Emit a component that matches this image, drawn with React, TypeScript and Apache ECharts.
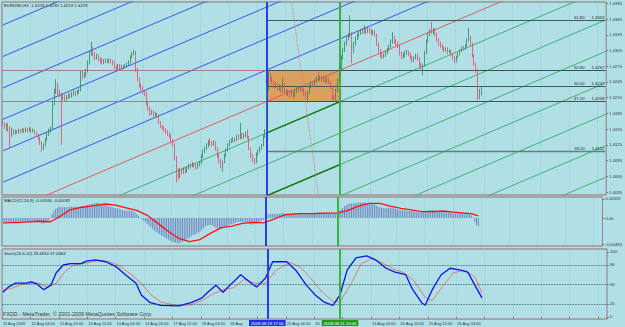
import React, { useEffect, useRef } from "react";
import * as echarts from "echarts";

const FONT = "'Liberation Sans', Arial, sans-serif";
const BG = "#b0e0e6";
const FRAME = "#9a6a6a";
const TEXT = "#333333";
const BULL = "#2a8a5a";
const BEAR = "#ee4466";

const symbolInfo = "EURUSD,H1  1.4228 1.4235 1.4219 1.4229";
const macdTitle = "MACD(12,26,9) -0.00160 -0.00092";
const stochTitle = "Stoch(24,6,12) 29.4810 37.0084";
const copyright = "FXDD - MetaTrader, \u00a9 2001-2009 MetaQuotes Software Corp.";

const SLOT_COUNT = 341;
// labels partly hidden under the two vertical-line date boxes are shown cut, as in the reference
const timeTickLabels: [number, string][] = [
  [0, "11 Aug 2009"], [16, "12 Aug 04:00"], [32, "12 Aug 20:00"], [48, "13 Aug 12:00"],
  [64, "14 Aug 04:00"], [80, "14 Aug 20:00"], [96, "17 Aug 12:00"], [112, "18 Aug 04:00"],
  [128, "18 Aug"], [160, "20 Aug 04:00"], [176, "20"],
  [208, "24 Aug 04:00"], [224, "24 Aug 20:00"], [240, "25 Aug 12:00"],
  [256, "26 Aug 04:00"],
];
// price in pips above 1.4000
const priceTicks = [35, 65, 95, 125, 155, 185, 215, 245, 275, 305, 335, 365, 395];
const macdTicks = [35.3, 0, -48.3];
const stochTicks = [0, 20, 50, 80, 100];
const stochLevels = [20, 50, 80];

// [open, close, low, high] in pips above 1.4000, H1 bars from 11 Aug 12:00
const candles = [
  [170,165,160,174],[165,160,155,168],[160,163,152,167],[163,158,150,166],[158,150,118,160],
  [150,152,140,158],[152,148,144,155],[148,150,145,154],[150,149,146,153],[149,152,147,156],
  [152,150,147,155],[150,153,148,157],[153,151,148,156],[151,154,149,158],[154,152,149,157],
  [152,155,150,159],[155,151,148,158],[151,153,149,156],[153,148,145,155],[148,144,140,150],
  [144,138,134,146],[138,130,125,140],[130,118,112,132],[118,125,115,128],[125,135,122,138],
  [135,145,132,148],[145,152,142,156],[152,156,148,160],[156,205,154,210],[205,228,200,232],
  [228,240,222,250],[240,225,220,243],[225,220,215,230],[220,215,125,224],[215,218,210,222],
  [218,212,208,221],[212,216,209,220],[216,220,213,223],[220,218,214,224],[218,222,215,226],
  [222,225,219,229],[225,222,218,228],[222,226,220,230],[226,229,223,233],[229,262,227,266],
  [262,255,250,266],[255,258,252,263],[258,266,255,270],[266,282,263,286],[282,300,278,305],
  [300,310,295,322],[310,298,294,312],[298,290,286,302],[290,294,288,299],[294,288,284,297],
  [288,286,280,292],[286,282,278,290],[282,284,279,289],[284,286,281,290],[286,283,280,289],
  [283,286,281,290],[286,284,280,289],[284,281,277,287],[281,274,270,284],[274,270,265,277],
  [270,276,268,279],[276,272,268,279],[272,275,270,278],[275,273,269,277],[273,276,271,279],
  [276,278,274,282],[278,282,276,286],[282,292,280,296],[292,298,290,302],[298,302,296,306],
  [302,268,264,304],[268,250,246,272],[250,238,234,254],[238,232,228,242],[232,226,222,236],
  [226,222,218,230],[222,205,200,226],[205,195,190,208],[195,185,180,198],[185,188,182,192],
  [188,182,178,191],[182,184,180,187],[184,180,176,186],[180,168,165,183],[168,160,157,170],
  [160,157,154,163],[157,154,150,160],[154,150,146,157],[150,146,142,153],[146,142,138,149],
  [142,132,128,145],[132,126,122,135],[126,100,95,128],[100,72,53,104],[72,65,58,80],
  [65,76,62,80],[76,72,68,80],[72,78,70,82],[78,74,70,81],[74,80,72,84],
  [80,86,78,89],[86,84,80,89],[84,88,82,92],[88,85,82,90],[85,82,78,88],
  [82,86,79,90],[86,90,84,94],[90,102,88,106],[102,112,100,116],[112,118,109,122],
  [118,124,115,128],[124,130,120,134],[130,128,124,138],[128,126,122,132],[126,130,123,134],
  [130,118,114,132],[118,105,100,120],[105,95,90,108],[95,85,80,98],[85,92,74,95],
  [92,104,90,108],[104,115,102,118],[115,125,112,128],[125,130,122,134],[130,133,128,137],
  [133,136,130,140],[136,134,130,139],[134,140,132,144],[140,138,135,145],[138,145,136,167],
  [145,140,136,148],[140,144,137,147],[144,146,140,150],[146,140,136,154],[140,118,115,142],
  [118,105,100,120],[105,96,92,108],[96,92,87,100],[92,106,90,110],[106,112,104,116],
  [112,118,110,122],[118,124,115,127],[124,140,122,144],[140,150,138,155],[150,232,148,240],
  [232,258,228,267],[258,250,246,262],[250,245,240,255],[245,236,232,248],[236,240,233,244],
  [240,232,228,243],[232,236,229,240],[236,228,224,239],[228,240,226,253],[240,228,222,243],
  [228,222,218,232],[222,226,219,229],[226,220,215,229],[220,224,217,228],[224,218,214,227],
  [218,226,216,230],[226,232,224,236],[232,228,225,236],[228,233,226,237],[233,230,226,236],
  [230,222,218,233],[222,218,214,226],[218,225,205,228],[225,236,222,240],[236,242,233,246],
  [242,238,235,247],[238,246,236,250],[246,252,243,256],[252,250,246,264],[250,254,247,258],
  [254,248,245,257],[248,252,245,256],[252,246,242,255],[246,250,243,254],[250,244,240,253],
  [244,236,232,247],[236,215,210,238],[215,212,208,220],[212,228,210,232],[228,248,225,252],
  [248,272,245,276],[272,292,268,296],[292,306,288,310],[306,318,302,322],[318,328,314,332],
  [328,334,324,338],[334,336,330,372],[336,305,280,340],[305,318,300,322],[318,328,314,332],
  [328,334,325,338],[334,338,330,342],[338,342,335,346],[342,340,336,348],[340,344,337,353],
  [344,341,337,348],[341,345,338,349],[345,342,338,348],[342,338,334,346],[338,340,335,344],
  [340,335,331,343],[335,318,314,337],[318,305,300,320],[305,296,292,308],[296,292,288,300],
  [292,296,290,300],[296,300,293,304],[300,306,298,310],[306,312,304,316],[312,322,310,326],
  [322,330,318,340],[330,322,318,333],[322,318,314,326],[318,314,310,322],[314,300,296,316],
  [300,292,288,303],[292,296,290,300],[296,300,292,304],[300,302,297,306],[302,298,294,305],
  [298,292,288,301],[292,286,282,295],[286,290,283,294],[290,296,288,299],[296,290,286,299],
  [290,278,274,292],[278,270,266,281],[270,276,258,280],[276,300,274,304],[300,322,298,326],
  [322,335,320,339],[335,342,332,346],[342,340,336,359],[340,344,336,348],[344,336,332,347],
  [336,326,322,339],[326,318,314,329],[318,314,310,322],[314,310,306,317],[310,306,302,313],
  [306,308,303,311],[308,302,298,311],[302,304,300,307],[304,298,294,306],[298,292,288,300],
  [292,285,281,294],[285,292,282,295],[292,298,290,301],[298,304,296,307],[304,310,302,313],
  [310,308,305,314],[308,314,306,317],[314,324,312,328],[324,330,322,348],[330,318,314,333],
  [318,296,292,320],[296,280,276,298],[280,268,262,282],[268,215,210,270],[215,228,212,232],
  [228,229,219,235],
];

// MACD main (histogram), units of 0.0001
const macdHist = [
  -6,-7,-7,-8,-9,-9,-9,-8,-8,-8, -7,-7,-6,-6,-6,-5,-5,-5,-5,-6,
  -7,-8,-10,-10,-9,-7,-4,1,8,13, 17,19,20,20,20,20,20,21,21,21,
  21,21,21,21,22,22,22,23,24,25, 26,27,27,28,28,27,26,25,24,23,
  22,21,20,19,18,18,17,16,15,14, 14,14,14,13,12,10,7,4,1,-2,
  -5,-8,-11,-14,-17,-20,-23,-26,-28,-30, -32,-34,-36,-38,-40,-42,-43,-45,-46,-47,
  -47,-46,-44,-42,-40,-38,-36,-34,-32,-30, -29,-27,-25,-22,-19,-16,-14,-13,-13,-14,
  -16,-18,-20,-21,-20,-19,-17,-15,-13,-12, -11,-10,-9,-8,-7,-7,-7,-7,-8,-9,
  -11,-12,-12,-11,-10,-9,-7,-5,-3,2, 5,7,8,8,8,8,8,8,9,9,
  8,8,8,8,8,8,8,8,8,8, 7,7,7,7,8,8,9,9,10,10,
  10,10,10,10,10,9,8,7,7,8, 10,13,16,19,22,24,26,27,27,27,
  28,28,29,29,29,29,29,28,28,27, 26,25,23,21,20,19,18,18,18,19,
  19,19,18,17,16,15,15,14,14,14, 13,13,13,13,12,11,10,10,11,12,
  13,14,15,15,15,14,14,13,13,12, 12,11,11,10,10,9,9,9,9,9,
  9,9,10,10,10,8,5,1,-8,-13, -16,
];
const macdSignal: [number, number][] = [
  [0,-9],[10,-8],[20,-6],[27,-7],[32,2],[38,15],[45,20],[52,23],[58,26],[64,24],[70,19],
  [76,14],[82,5],[88,-10],[94,-25],[100,-38],[106,-44],[112,-40],[118,-28],[124,-18],
  [130,-15],[136,-10],[142,-8],[148,-9],[154,-2],[160,6],[168,8],[176,8],[184,9],[190,9],
  [196,14],[202,22],[208,27],[214,27],[220,22],[226,18],[232,15],[238,12],[244,12],
  [250,13],[256,11],[262,9],[266,8],[270,4],
];
const stochK: [number, number][] = [
  [0,38],[3,46],[7,52],[13,52],[16,54],[19,51],[23,42],[27,49],[30,68],[34,80],[38,82],
  [44,82],[47,86],[52,88],[58,85],[64,77],[69,65],[75,52],[78,34],[83,22],[89,18],[99,17],
  [106,22],[112,29],[115,37],[120,49],[124,38],[128,49],[134,65],[140,52],[143,46],
  [148,60],[152,85],[160,85],[165,72],[171,49],[176,34],[181,23],[186,18],[190,34],
  [194,72],[199,91],[205,94],[210,88],[216,75],[221,69],[227,65],[231,42],[236,22],
  [238,18],[242,42],[247,65],[252,75],[258,72],[262,69],[266,49],[270,29.5],
];
const stochD: [number, number][] = [
  [0,42],[5,44],[10,50],[16,52],[20,52],[25,46],[30,52],[35,70],[40,80],[47,83],[54,87],
  [60,85],[66,78],[72,66],[78,52],[83,35],[89,23],[99,17],[106,19],[112,25],[118,35],
  [124,42],[130,45],[136,58],[142,52],[148,52],[154,72],[162,84],[168,76],[174,58],
  [180,38],[186,24],[190,24],[196,50],[202,82],[208,90],[214,83],[220,74],[226,68],
  [232,55],[238,30],[242,25],[248,48],[254,68],[260,72],[266,62],[270,37],
];

// objects on the chart
const blueVLine = { bar: 149, label: "2009.08.19 17:00" };
const greenVLine = { bar: 190, label: "2009.08.21 10:00" };
const box = { from: 149, to: 190, low: 208, high: 267 };
const fibLevels = [
  { pct: "61.80", v: 363 }, { pct: "52.80", v: 267 }, { pct: "50.00", v: 237 },
  { pct: "47.20", v: 208 }, { pct: "38.20", v: 112 },
];
const bandLabels = [
  { text: "BOT 47.20%  1.4267", v: 267, bar: 270 },
  { text: "TOP 52.80%  1.4208", v: 208, bar: 270 },
];
const axisMarks = [
  { v: 267, bg: "#a0703a" }, { v: 208, bg: "#a0703a" }, { v: 229, bg: "#c40000" },
];
// channel: anchored on box corners (bar 149 @ 208, bar 190 @ 267), parallel copies 60 pips apart
const channelAnchors = { i0: 149, v0: 208, i1: 190, v1: 267 };
const channelStep = 60;
const blueOffsets = [1, 2, 3, 4, 5, 6];
const greenOffsets = [-1, -2, -3, -4, -5, -6, -7];
const darkGreenOffsets = [-1, -3];
const dottedLine = [[163, 397], [178, 30]];

const fmtPrice = (v: number) => (1.4 + v / 10000).toFixed(4);

export default function App() {
  const ref = useRef<HTMLDivElement>(null);
  useEffect(() => {
    document.body.style.margin = "0";
    if (!ref.current) return;
    const chart = echarts.init(ref.current, undefined, { renderer: "svg" });
    const categories = Array.from({ length: SLOT_COUNT }, (_, i) => String(i));
    const labelMap: Record<string, string> = {};
    timeTickLabels.forEach(([i, s]) => (labelMap[String(i)] = s));
    const slope = (channelAnchors.v1 - channelAnchors.v0) / (channelAnchors.i1 - channelAnchors.i0);
    const chVal = (i: number, n: number) => channelAnchors.v0 + (i - channelAnchors.i0) * slope + n * channelStep;
    const chLine = (n: number, color: string, a: number, b: number, w = 1) => ({
      type: "line", xAxisIndex: 0, yAxisIndex: 0, silent: true, showSymbol: false, z: 2,
      data: [[a, chVal(a, n)], [b, chVal(b, n)]],
      lineStyle: { color, width: w }, clip: true,
    });
    const last = SLOT_COUNT - 1;
    const vLines = (gi: number, withLabel: boolean) => ({
      type: "line", xAxisIndex: gi, yAxisIndex: gi, data: [], z: 6, silent: true,
      markLine: {
        symbol: ["none", "none"], silent: true, animation: false,
        data: [
          { xAxis: blueVLine.bar, lineStyle: { color: "#2a3cf0", width: 2, type: "solid" },
            label: { show: withLabel, position: "start", formatter: blueVLine.label, color: "#ffffff",
              backgroundColor: "#1f2ff0", fontSize: 4.2, padding: [1, 2], distance: 1 } },
          { xAxis: greenVLine.bar, lineStyle: { color: "#3cb043", width: 2, type: "solid" },
            label: { show: withLabel, position: "start", formatter: greenVLine.label, color: "#ffffff",
              backgroundColor: "#1e9a1e", fontSize: 4.2, padding: [1, 2], distance: 1 } },
        ],
      },
    });
    const xAxis = [0, 1, 2].map((g) => ({
      type: "category", gridIndex: g, data: categories, boundaryGap: true,
      axisLine: { show: false },
      axisTick: { show: g === 2, interval: 15, length: 2, lineStyle: { color: FRAME } },
      axisLabel: { show: g === 2, interval: 15, formatter: (v: string) => labelMap[v] || "",
        fontSize: 4, color: TEXT, align: "left", margin: 2, fontFamily: FONT },
      splitLine: { show: true, interval: 15, lineStyle: { color: "#86c3dc", type: "dotted", width: 0.7 } },
    }));
    const yAxis = [
      { type: "value", gridIndex: 0, position: "right", min: 29.3, max: 397.5,
        axisLine: { show: false }, splitLine: { show: false },
        axisTick: { show: true, length: 2, customValues: priceTicks, lineStyle: { color: FRAME } },
        axisLabel: { customValues: priceTicks, formatter: fmtPrice, fontSize: 4.2, color: TEXT, margin: 3, fontFamily: FONT } },
      { type: "value", gridIndex: 1, position: "right", min: -52, max: 39,
        axisLine: { show: false }, splitLine: { show: false },
        axisTick: { show: true, length: 2, customValues: macdTicks, lineStyle: { color: FRAME } },
        axisLabel: { customValues: macdTicks, formatter: (v: number) => (v === 0 ? "0.00" : (v / 10000).toFixed(5)),
          fontSize: 4.2, color: TEXT, margin: 3, fontFamily: FONT } },
      { type: "value", gridIndex: 2, position: "right", min: -3.08, max: 104.6,
        axisLine: { show: false }, splitLine: { show: false },
        axisTick: { show: true, length: 2, customValues: stochTicks, lineStyle: { color: FRAME } },
        axisLabel: { customValues: stochTicks, formatter: (v: number) => String(v), fontSize: 4.2, color: TEXT, margin: 3, fontFamily: FONT } },
    ];
    const series: any[] = [
      { type: "line", xAxisIndex: 0, yAxisIndex: 0, data: [], z: 1, silent: true,
        markArea: { silent: true, itemStyle: { color: "#d9a05e", opacity: 1 },
          data: [[{ xAxis: box.from, yAxis: box.low }, { xAxis: box.to, yAxis: box.high }]] } },
      ...blueOffsets.map((n) => chLine(n, "#3a55ee", 0, last)),
      chLine(0, "#e25a5a", 0, last),
      ...greenOffsets.map((n) => chLine(n, "#3cb371", 0, last)),
      ...darkGreenOffsets.map((n) => chLine(n, "#127a12", box.from, box.to, 1.4)),
      { type: "line", xAxisIndex: 0, yAxisIndex: 0, silent: true, showSymbol: false, z: 2, data: dottedLine,
        lineStyle: { color: "#e07878", width: 1, type: "dotted" } },
      { type: "line", xAxisIndex: 0, yAxisIndex: 0, data: [], z: 3, silent: true,
        markLine: {
          symbol: ["none", "none"], silent: true, animation: false,
          data: [
            { yAxis: box.high, lineStyle: { color: "#b46464", width: 0.8, type: "solid" }, label: { show: false } },
            { yAxis: box.low, lineStyle: { color: "#b46464", width: 0.8, type: "solid" }, label: { show: false } },
            ...fibLevels.map((f) => [
              { coord: [blueVLine.bar, f.v],
                lineStyle: { color: f.pct === "38.20" ? "#5f8080" : "#2f4f4f", width: f.pct === "38.20" ? 1.3 : 0.9, type: "solid" },
                label: { show: true, position: "insideEndTop", formatter: `${f.pct}      ${fmtPrice(f.v)}`,
                  fontSize: 4.2, color: "#222222", distance: 1, fontFamily: FONT } },
              { coord: [last, f.v] },
            ]),
            ...bandLabels.map((b) => [
              { coord: [b.bar, b.v], lineStyle: { opacity: 0 },
                label: { show: true, position: "insideStartBottom", formatter: b.text, fontSize: 4.4,
                  color: "#222222", distance: 1, fontFamily: FONT } },
              { coord: [b.bar + 30, b.v] },
            ]),
            ...axisMarks.map((m) => ({ yAxis: m.v, lineStyle: { opacity: 0 },
              label: { show: true, position: "end", formatter: fmtPrice(m.v), color: "#ffffff",
                backgroundColor: m.bg, fontSize: 4.2, padding: [1, 1], distance: 2, fontFamily: FONT } })),
          ],
        } },
      { type: "candlestick", xAxisIndex: 0, yAxisIndex: 0, data: candles, z: 5, barWidth: 1.1,
        itemStyle: { color: BULL, color0: BEAR, borderColor: BULL, borderColor0: BEAR, borderWidth: 0.8 } },
      vLines(0, false),
      { type: "bar", xAxisIndex: 1, yAxisIndex: 1, data: macdHist, barWidth: 0.9, silent: true,
        itemStyle: { color: "#7088c0" }, z: 3 },
      { type: "line", xAxisIndex: 1, yAxisIndex: 1, data: macdSignal, showSymbol: false, silent: true, z: 4,
        lineStyle: { color: "#ff1010", width: 1.3 } },
      vLines(1, false),
      { type: "line", xAxisIndex: 2, yAxisIndex: 2, data: [], silent: true, z: 2,
        markLine: { symbol: ["none", "none"], silent: true, animation: false, label: { show: false },
          data: stochLevels.map((v) => ({ yAxis: v })),
          lineStyle: { color: "#2f4f4f", width: 0.8, type: "dotted" } } },
      { type: "line", xAxisIndex: 2, yAxisIndex: 2, data: stochD, showSymbol: false, silent: true, z: 3,
        lineStyle: { color: "#f06060", width: 0.8 } },
      { type: "line", xAxisIndex: 2, yAxisIndex: 2, data: stochK, showSymbol: false, silent: true, z: 4,
        lineStyle: { color: "#0a14e6", width: 1.3 } },
      vLines(2, true),
    ];
    chart.setOption({
      animation: false,
      backgroundColor: BG,
      textStyle: { fontFamily: FONT },
      grid: [
        { left: 2, right: 18, top: 2, height: 193, show: true, borderColor: FRAME, borderWidth: 1 },
        { left: 2, right: 18, top: 197, height: 49, show: true, borderColor: FRAME, borderWidth: 1 },
        { left: 2, right: 18, top: 249, height: 70, show: true, borderColor: FRAME, borderWidth: 1 },
      ],
      xAxis, yAxis, series,
      graphic: [
        { type: "text", left: 4, top: 3, z: 20, style: { text: symbolInfo, fontSize: 4.3, fill: "#222", fontFamily: FONT } },
        { type: "text", left: 4, top: 198, z: 20, style: { text: macdTitle, fontSize: 4.3, fill: "#222", fontFamily: FONT } },
        { type: "text", left: 4, top: 251, z: 20, style: { text: stochTitle, fontSize: 4.3, fill: "#222", fontFamily: FONT } },
        { type: "text", left: 3, top: 311, z: 20, style: { text: copyright, fontSize: 5.4, fill: "#3a3a3a", fontFamily: FONT } },
      ],
    });
    return () => chart.dispose();
  }, []);
  return <div ref={ref} style={{ width: 625, height: 327 }} />;
}
